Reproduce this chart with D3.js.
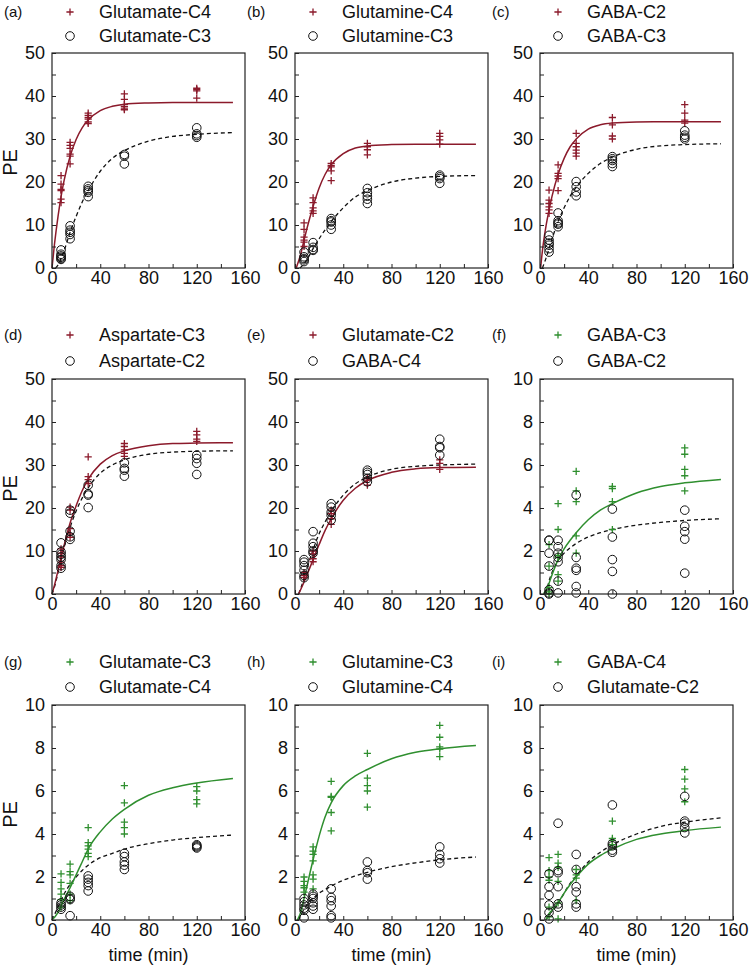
<!DOCTYPE html>
<html>
<head>
<meta charset="utf-8">
<script src="https://cdn.jsdelivr.net/npm/d3@7"></script>
<style>
  html, body { margin: 0; padding: 0; background: #fff; }
  svg { display: block; }
  text { font-family: "Liberation Sans", Arial, sans-serif; fill: #111; }
</style>
</head>
<body>
<svg id="chart" width="751" height="969"></svg>
<script>
// ---------------- DATA ----------------
const timePoints = [7.5, 15, 30, 60, 120];
const xTicks = [0, 40, 80, 120, 160];
const yTicksBig = [0, 10, 20, 30, 40, 50];
const yTicksSmall = [0, 2, 4, 6, 8, 10];
const panelLetters = ["(a)", "(b)", "(c)", "(d)", "(e)", "(f)", "(g)", "(h)", "(i)"];
const seriesNamesA = ["Glutamate-C4", "Glutamine-C4", "GABA-C2", "Aspartate-C3", "Glutamate-C2", "GABA-C3", "Glutamate-C3", "Glutamine-C3", "GABA-C4"];
const seriesNamesB = ["Glutamate-C3", "Glutamine-C3", "GABA-C3", "Aspartate-C2", "GABA-C4", "GABA-C2", "Glutamate-C4", "Glutamine-C4", "Glutamate-C2"];

// (a)
const aCross = [[21.5,19.5,18.3,18,16,15.2],[29.2,28.5,27.8,26.5,26,24.2],[36,35.5,35,34.6,34,33.6],[40.5,39.2,38,37.5,37,36.8],[41.8,41.5,41.2,39.5]];
const aCircle = [[4.2,3.2,2.8,2.5,2.2,2.0],[9.8,8.8,8.3,7.8,6.8],[19,18.4,18,17.6,16.6],[26.4,26,24.2],[32.6,31.2,30.8,30.4]];
const aFitCross = [[0,0],[2,5.4],[5,12],[7.5,16.6],[10,20.3],[15,26],[20,29.9],[25,32.6],[30,34.4],[40,36.6],[50,37.6],[60,38.1],[80,38.4],[100,38.5],[150,38.5]];
const aFitCircle = [[3,0],[5,0.7],[7.5,2.2],[10,4],[15,8.3],[20,12],[25,15.3],[30,18],[40,22.5],[50,25.5],[60,27.3],[80,29.5],[100,30.6],[120,31.1],[150,31.5]];
// (b)
const bCross = [[10.5,9,7.2,6.5,6,5],[16.3,15.2,14,13.3,12.7],[24.3,23.8,23.5,22.6,20.3],[29,28.2,27.5,26.3],[31.3,30.6,29.8,28.8]];
const bCircle = [[3.7,2.6,2.2,1.9,1.5],[5.9,4.8,4.3,4.1],[11.5,11,10.7,10,9],[18.5,17.5,16.7,16,15],[21.6,21.2,20.8,19.7]];
const bFitCross = [[1,0],[5,3.5],[7.5,6.5],[10,9.3],[15,14.3],[20,18.6],[25,21.8],[30,24],[40,26.6],[50,27.9],[60,28.4],[80,28.7],[100,28.8],[150,28.8]];
const bFitCircle = [[4,0],[7.5,1],[10,2],[15,4.5],[20,6.8],[30,10.8],[40,14],[50,16.5],[60,18],[80,20],[100,20.9],[120,21.3],[150,21.5]];
// (c)
const cCross = [[18.1,15.8,15,14.2,13.5,12.7],[24,22,21.4,20.8,18],[31.3,29,28.2,27.4,26.7,26],[35,33.3,30.7,30],[38,36,34.4,33.7]];
const cCircle = [[7.6,6.5,5.8,5.3,4.5,3.7],[12.8,11,10.5,10.2,9.6],[20.1,18.9,17.7,16.8],[25.9,25.4,25,24.3,23.6],[31.9,30.9,30.4,30]];
const cFitCross = [[0.5,0],[2,4],[5,9.8],[7.5,13.5],[10,16.7],[15,21.8],[20,25.5],[25,28.2],[30,30],[40,32.3],[50,33.3],[60,33.7],[80,33.95],[100,34],[150,34]];
const cFitCircle = [[2,0],[5,2.3],[7.5,4.5],[10,6.8],[15,10.8],[20,14],[25,16.7],[30,18.8],[40,22],[50,24.3],[60,25.8],[80,27.6],[100,28.4],[120,28.7],[150,28.9]];
// (d)
const dCross = [[10.5,9.5,8.6,7.4,6.6,6.2],[20.2,19.5,15.2,14,13.2],[31.9,27.3,26.6,25.7],[35,34.3,33.5,32.7,32],[37.8,37,36,35.5]];
const dCircle = [[11.9,9.8,9.2,8.6,8,6.6,6],[19.5,18.8,14.6,13.3,12.7],[25.3,23.3,23,20.1],[30.5,29.2,28.8,27.4],[32.3,31.5,30.4,27.8]];
const dFitCross = [[0,0],[2,2],[5,5.5],[7.5,8.5],[10,11.3],[15,16.5],[20,20.5],[25,24],[30,26.7],[40,30.2],[50,32.2],[60,33.3],[80,34.5],[100,35],[120,35.1],[150,35.2]];
const dFitCircle = [[0,0],[2,1.6],[5,5],[7.5,8],[10,10.8],[15,15.5],[20,19.3],[25,22.3],[30,24.7],[40,28.1],[50,30],[60,31.2],[80,32.5],[100,33],[120,33.2],[150,33.3]];
// (e)
const eCross = [[5,4.3,3.8],[10,9.3,8.2,7.5],[19.5,18.7,17.5,16.2],[27,26.5,25.3],[31.2,30.4,29]];
const eCircle = [[8,7.4,6.6,5.5,4.3,3.8],[14.5,11.8,11,10,9.5],[21,20.2,19,18.3,17.2],[28.8,28.3,27.8,26.9,26.1],[36,34.3,34,32.3]];
const eFitCross = [[3,0],[7.5,2.8],[10,4.5],[15,8],[20,11.5],[25,14.8],[30,17.5],[40,21.8],[50,24.6],[60,26.4],[80,28.3],[100,29.1],[120,29.4],[150,29.5]];
const eFitCircle = [[3,0],[5,1.5],[7.5,3.6],[10,6],[15,10.3],[20,14],[25,16.8],[30,19.2],[40,23],[50,25.6],[60,27.2],[80,29],[100,29.7],[120,30],[150,30.2]];
// (f)
const fCross = [[2.3,1.3,0.3,0.1,0],[4.2,3.0,1.8,1.7,0.9,0.6],[5.7,4.8,4.3,2.7,1.9],[5.0,4.9,4.3,3.0],[6.8,6.5,5.8,5.5,4.8]];
const fCircle = [[2.5,2.5,1.9,1.3,0.2,0.05,0],[2.5,2.2,1.9,1.7,1.5,0.6,0.05],[4.6,1.7,1.2,1.1,0.35,0.05],[3.95,2.65,1.6,1.05,0],[3.9,3.15,2.9,2.55,0.97]];
const fFitCross = [[3,0],[7.5,0.5],[10,0.9],[15,1.6],[20,2.1],[25,2.5],[30,2.85],[40,3.45],[50,3.9],[60,4.2],[80,4.7],[100,5.0],[120,5.17],[150,5.33]];
const fFitCircle = [[5,0],[7.5,0.6],[10,1.0],[15,1.55],[20,1.9],[25,2.15],[30,2.35],[40,2.65],[50,2.85],[60,3.0],[80,3.2],[100,3.33],[120,3.42],[150,3.5]];
// (g)
const gCross = [[2.15,1.75,1.45,1.2,0.95,0.6],[2.6,2.25,2.1,1.7,1.2,0.9],[4.3,3.6,3.45,3.3,3.1,2.95],[6.25,5.45,4.55,4.3,4.0],[6.2,6.0,5.6,5.4]];
const gCircle = [[0.8,0.7,0.6,0.5],[1.1,1.0,0.95,0.2],[2.05,1.9,1.75,1.6,1.35],[3.1,2.95,2.7,2.55,2.35],[3.5,3.45,3.4,3.35]];
const gFitCross = [[0,0],[5,0.35],[7.5,0.65],[10,0.95],[15,1.5],[20,2.1],[25,2.7],[30,3.3],[40,4.1],[50,4.7],[60,5.15],[80,5.8],[100,6.15],[120,6.37],[150,6.58]];
const gFitCircle = [[0,0],[5,0.6],[7.5,0.9],[10,1.2],[15,1.65],[20,2.0],[25,2.3],[30,2.55],[40,2.9],[50,3.1],[60,3.3],[80,3.55],[100,3.72],[120,3.83],[150,3.95]];
// (h)
const hCross = [[2.0,1.8,1.6,1.5,1.3],[3.4,3.2,3.05,2.75,2.1,1.9,1.45],[6.45,5.75,5.7,5.0,4.15],[7.75,6.6,6.25,6.0,5.25],[9.05,8.5,8.05,7.95,7.6]];
const hCircle = [[1.0,0.85,0.7,0.55,0.45,0.1],[1.2,1.1,1.0,0.8,0.65,0.5],[1.45,1.05,0.9,0.65,0.2,0.1],[2.7,2.3,2.2,1.9],[3.4,3.05,2.85,2.65]];
const hFitCross = [[2,0],[5,0.4],[7.5,1.0],[10,1.6],[15,2.8],[20,3.9],[25,4.8],[30,5.45],[40,6.25],[50,6.7],[60,7.0],[80,7.5],[100,7.8],[120,7.97],[150,8.12]];
const hFitCircle = [[3,0],[5,0.25],[7.5,0.5],[10,0.7],[15,1.0],[20,1.25],[25,1.42],[30,1.58],[40,1.85],[50,2.05],[60,2.22],[80,2.48],[100,2.66],[120,2.8],[150,2.93]];
// (i)
const iCross = [[2.9,2.3,2.0,1.85,0.6,0.15],[3.05,2.65,2.45,1.8,0.8,0.05],[2.35,2.1,1.95,0.9],[4.6,3.8,3.7,3.5],[7.0,6.55,6.1,5.5]];
const iCircle = [[2.15,1.55,1.15,0.7,0.35,0.05],[4.5,2.3,2.2,1.55,0.75,0.6],[3.05,2.35,1.55,1.3,0.75,0.6],[5.35,3.55,3.45,3.25,3.15],[5.75,4.6,4.5,4.3,4.05]];
const iFitCross = [[5,0],[7.5,0.3],[10,0.45],[15,0.8],[20,1.25],[25,1.65],[30,2.0],[40,2.6],[50,3.0],[60,3.3],[80,3.75],[100,4.0],[120,4.16],[150,4.32]];
const iFitCircle = [[5,0],[7.5,0.25],[10,0.4],[15,0.75],[20,1.25],[25,1.7],[30,2.05],[40,2.7],[50,3.15],[60,3.5],[80,4.0],[100,4.35],[120,4.55],[150,4.75]];

// ---------------- LAYOUT ----------------
const RED = "#8b1a2b", GREEN = "#2f8f2f";
const colLeft = [52, 295, 540];
const rowTop = [53, 379, 705];
const boxW = 193, boxH = 215;
const legendY = [[12, 36], [335, 361], [662, 687]];

const panels = [
  {cross: aCross, circle: aCircle, fc: aFitCross, fo: aFitCircle, ymax: 50, col: RED},
  {cross: bCross, circle: bCircle, fc: bFitCross, fo: bFitCircle, ymax: 50, col: RED},
  {cross: cCross, circle: cCircle, fc: cFitCross, fo: cFitCircle, ymax: 50, col: RED},
  {cross: dCross, circle: dCircle, fc: dFitCross, fo: dFitCircle, ymax: 50, col: RED},
  {cross: eCross, circle: eCircle, fc: eFitCross, fo: eFitCircle, ymax: 50, col: RED},
  {cross: fCross, circle: fCircle, fc: fFitCross, fo: fFitCircle, ymax: 10, col: GREEN},
  {cross: gCross, circle: gCircle, fc: gFitCross, fo: gFitCircle, ymax: 10, col: GREEN},
  {cross: hCross, circle: hCircle, fc: hFitCross, fo: hFitCircle, ymax: 10, col: GREEN},
  {cross: iCross, circle: iCircle, fc: iFitCross, fo: iFitCircle, ymax: 10, col: GREEN}
];

const svg = d3.select("#chart");
const crossSize = 3.6, circR = 4.3;

function drawCross(g, x, y, color) {
  g.append("path")
    .attr("d", `M${x - crossSize},${y}H${x + crossSize}M${x},${y - crossSize}V${y + crossSize}`)
    .attr("stroke", color).attr("stroke-width", 1.3).attr("fill", "none");
}
function drawCircle(g, x, y) {
  g.append("circle").attr("cx", x).attr("cy", y).attr("r", circR)
    .attr("fill", "none").attr("stroke", "#111").attr("stroke-width", 1);
}

panels.forEach((p, i) => {
  const r = Math.floor(i / 3), c = i % 3;
  const L = colLeft[c], T = rowTop[r];
  const g = svg.append("g");
  const x = d3.scaleLinear().domain([0, 160]).range([L, L + boxW]);
  const y = d3.scaleLinear().domain([0, p.ymax]).range([T + boxH, T]);
  const yMajor = p.ymax === 50 ? yTicksBig : yTicksSmall;
  const yStep = yMajor[1] - yMajor[0];
  const yAll = d3.range(0, p.ymax + 1e-9, yStep / 2);
  const xAll = d3.range(0, 160 + 1e-9, 20);

  // fits
  const line = d3.line().x(d => x(d[0])).y(d => y(d[1])).curve(d3.curveMonotoneX);
  g.append("path").attr("d", line(p.fo)).attr("fill", "none")
    .attr("stroke", "#111").attr("stroke-width", 1.3).attr("stroke-dasharray", "4,3");
  g.append("path").attr("d", line(p.fc)).attr("fill", "none")
    .attr("stroke", p.col).attr("stroke-width", 1.5);

  // points
  timePoints.forEach((t, k) => {
    p.cross[k].forEach(v => drawCross(g, x(t), y(v), p.col));
  });
  timePoints.forEach((t, k) => {
    p.circle[k].forEach(v => drawCircle(g, x(t), y(v)));
  });

  // axes
  const xa = g.append("g").attr("transform", `translate(0,${T + boxH})`)
    .call(d3.axisBottom(x).tickValues(xAll).tickFormat(d => xTicks.includes(d) ? d : "")
      .tickSizeInner(-4).tickSizeOuter(0).tickPadding(3));
  const ya = g.append("g").attr("transform", `translate(${L},0)`)
    .call(d3.axisLeft(y).tickValues(yAll).tickFormat(d => yMajor.some(m => Math.abs(m - d) < 1e-9) ? d : "")
      .tickSizeInner(-4).tickSizeOuter(0).tickPadding(7));
  [xa, ya].forEach(a => {
    a.select(".domain").remove();
    a.selectAll("line").attr("stroke", "#222").attr("stroke-width", 1);
    a.selectAll("text").attr("font-size", 18).attr("fill", "#111")
      .attr("font-family", '"Liberation Sans", Arial, sans-serif');
  });

  g.append("rect").attr("x", L).attr("y", T).attr("width", boxW).attr("height", boxH)
    .attr("fill", "none").attr("stroke", "#222").attr("stroke-width", 1.2);

  // legend
  const [ly1, ly2] = legendY[r];
  drawCross(g, L + 18, ly1, p.col);
  drawCircle(g, L + 18, ly2);
  g.append("text").attr("x", L + 47).attr("y", ly1).attr("dy", "0.36em")
    .attr("font-size", 18).text(seriesNamesA[i]);
  g.append("text").attr("x", L + 47).attr("y", ly2).attr("dy", "0.36em")
    .attr("font-size", 18).text(seriesNamesB[i]);

  // panel letter
  g.append("text").attr("x", L - 48).attr("y", ly1).attr("dy", "0.36em")
    .attr("font-size", 15).text(panelLetters[i]);

  // y label
  if (c === 0) {
    g.append("text").attr("transform", `translate(17,${T + boxH / 2 + 2}) rotate(-90)`)
      .attr("text-anchor", "middle").attr("font-size", 20).text("PE");
  }
  if (r === 2) {
    g.append("text").attr("x", L + boxW / 2).attr("y", 961)
      .attr("text-anchor", "middle").attr("font-size", 18).text("time (min)");
  }
});
</script>
</body>
</html>
